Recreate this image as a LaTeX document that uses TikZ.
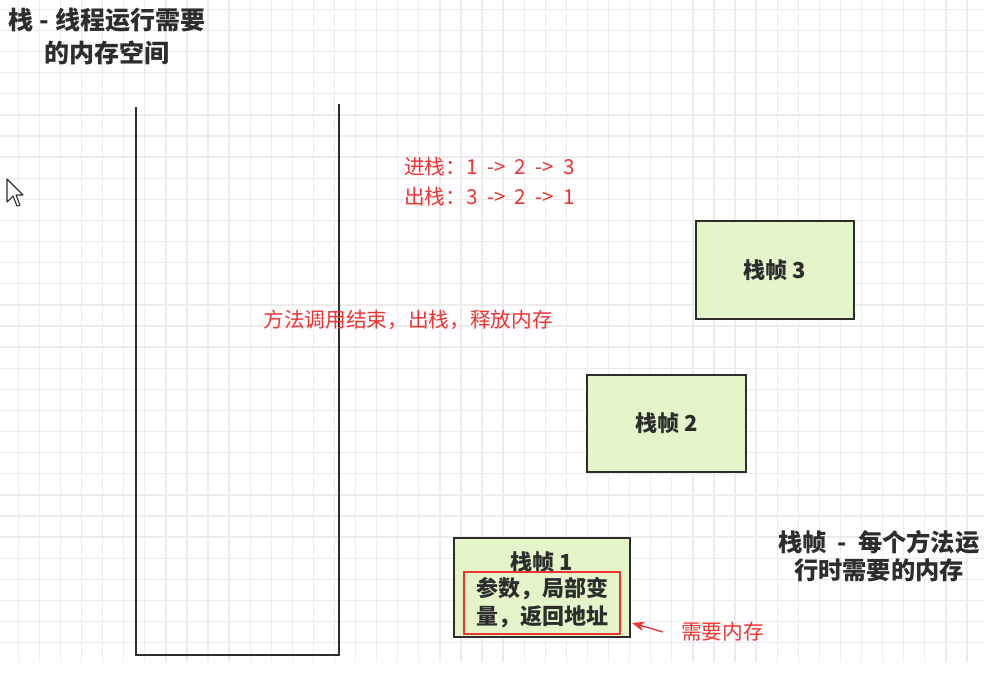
\documentclass[tikz,border=0pt]{standalone}
\usepackage{fontspec}
\setmainfont{Noto Sans CJK SC}
\usetikzlibrary{arrows.meta}
\definecolor{inkgray}{RGB}{45,45,45}
\definecolor{notered}{RGB}{240,52,52}
\definecolor{framegreen}{RGB}{228,245,202}
\definecolor{gridgray}{RGB}{236,236,236}
\newcommand{\widegaps}{\spaceskip 0.45em\relax}
\tikzset{
  gridline/.style={draw=gridgray, line width=1pt},
  stackwall/.style={draw=inkgray, line width=2pt},
  framebox/.style={draw=inkgray, line width=1.7pt, fill=framegreen, text=inkgray,
    font=\fontsize{16.5}{21}\selectfont\bfseries},
  framelabel/.style={text=inkgray, inner sep=0pt, align=center,
    font=\fontsize{16.5}{21}\selectfont\bfseries},
  memnote/.style={draw=notered, line width=1.9pt, text=inkgray, align=center,
    minimum width=117pt, minimum height=46.5pt, inner sep=0pt,
    font=\fontsize{16.5}{21}\selectfont\bfseries},
  redtext/.style={text=notered, inner sep=0pt, font=\fontsize{15.5}{22.5}\selectfont},
  darktext/.style={text=inkgray, inner sep=0pt, align=center},
  notearrow/.style={draw=notered, line width=1pt, -{Stealth[length=9pt,width=7pt,inset=2.5pt]}}
}

\begin{document}
\begin{tikzpicture}[x=0.75pt,y=-0.75pt]
\useasboundingbox (0,0) rectangle (984,682);
\fill[white] (0,0) rectangle (984,682);
\foreach \k in {0,...,45} {\draw[gridline] (18.3+21.08*\k,0) -- (18.3+21.08*\k,662);}
\foreach \k in {0,...,30} {\draw[gridline] (0,9.3+21.11*\k) -- (984,9.3+21.11*\k);}
\draw[stackwall] (136,107) -- (136,655) -- (339,655) -- (339,104);
\draw[fill=white, draw=inkgray, line width=0.8pt, line join=round] (7,179) -- ++(0,23) -- ++(6,-6) -- ++(4,10) -- ++(3,-1) -- ++(-4,-10) -- ++(7,0) -- cycle;
\node[darktext, font=\fontsize{18.75}{24.75}\selectfont\bfseries] (stacknote) at (107,36) {栈 - 线程运行需要\\的内存空间};
\node[darktext, font=\fontsize{18.2}{21}\selectfont\bfseries] (framenote) at (879,556) {\widegaps 栈帧 - 每个方法运\\行时需要的内存};
\node[redtext, anchor=west, align=left] (pushpop) at (404,182) {\widegaps 进栈：1 -> 2 -> 3\\\widegaps 出栈：3 -> 2 -> 1};
\node[redtext] (popnote) at (408,320) {方法调用结束，出栈，释放内存};
\node[framebox, minimum width=118.5pt, minimum height=73.5pt] (frame3) at (775,270) {栈帧 3};
\node[framebox, minimum width=119.25pt, minimum height=72.75pt] (frame2) at (666.5,423.5) {栈帧 2};
\node[framebox, minimum width=132pt, minimum height=74.25pt] (frame1) at (542,587.5) {};
\node[framelabel] (frame1label) at (542,562) {栈帧 1};
\node[memnote] (locals) at (542,603) {参数，局部变\\量，返回地址};
\node[redtext, anchor=west] (needmem) at (681,632) {需要内存};
\coordinate (memtip) at (632,623);
\draw[notearrow] ([xshift=-13.5pt]needmem.west) -- (memtip);
\end{tikzpicture}
\end{document}
